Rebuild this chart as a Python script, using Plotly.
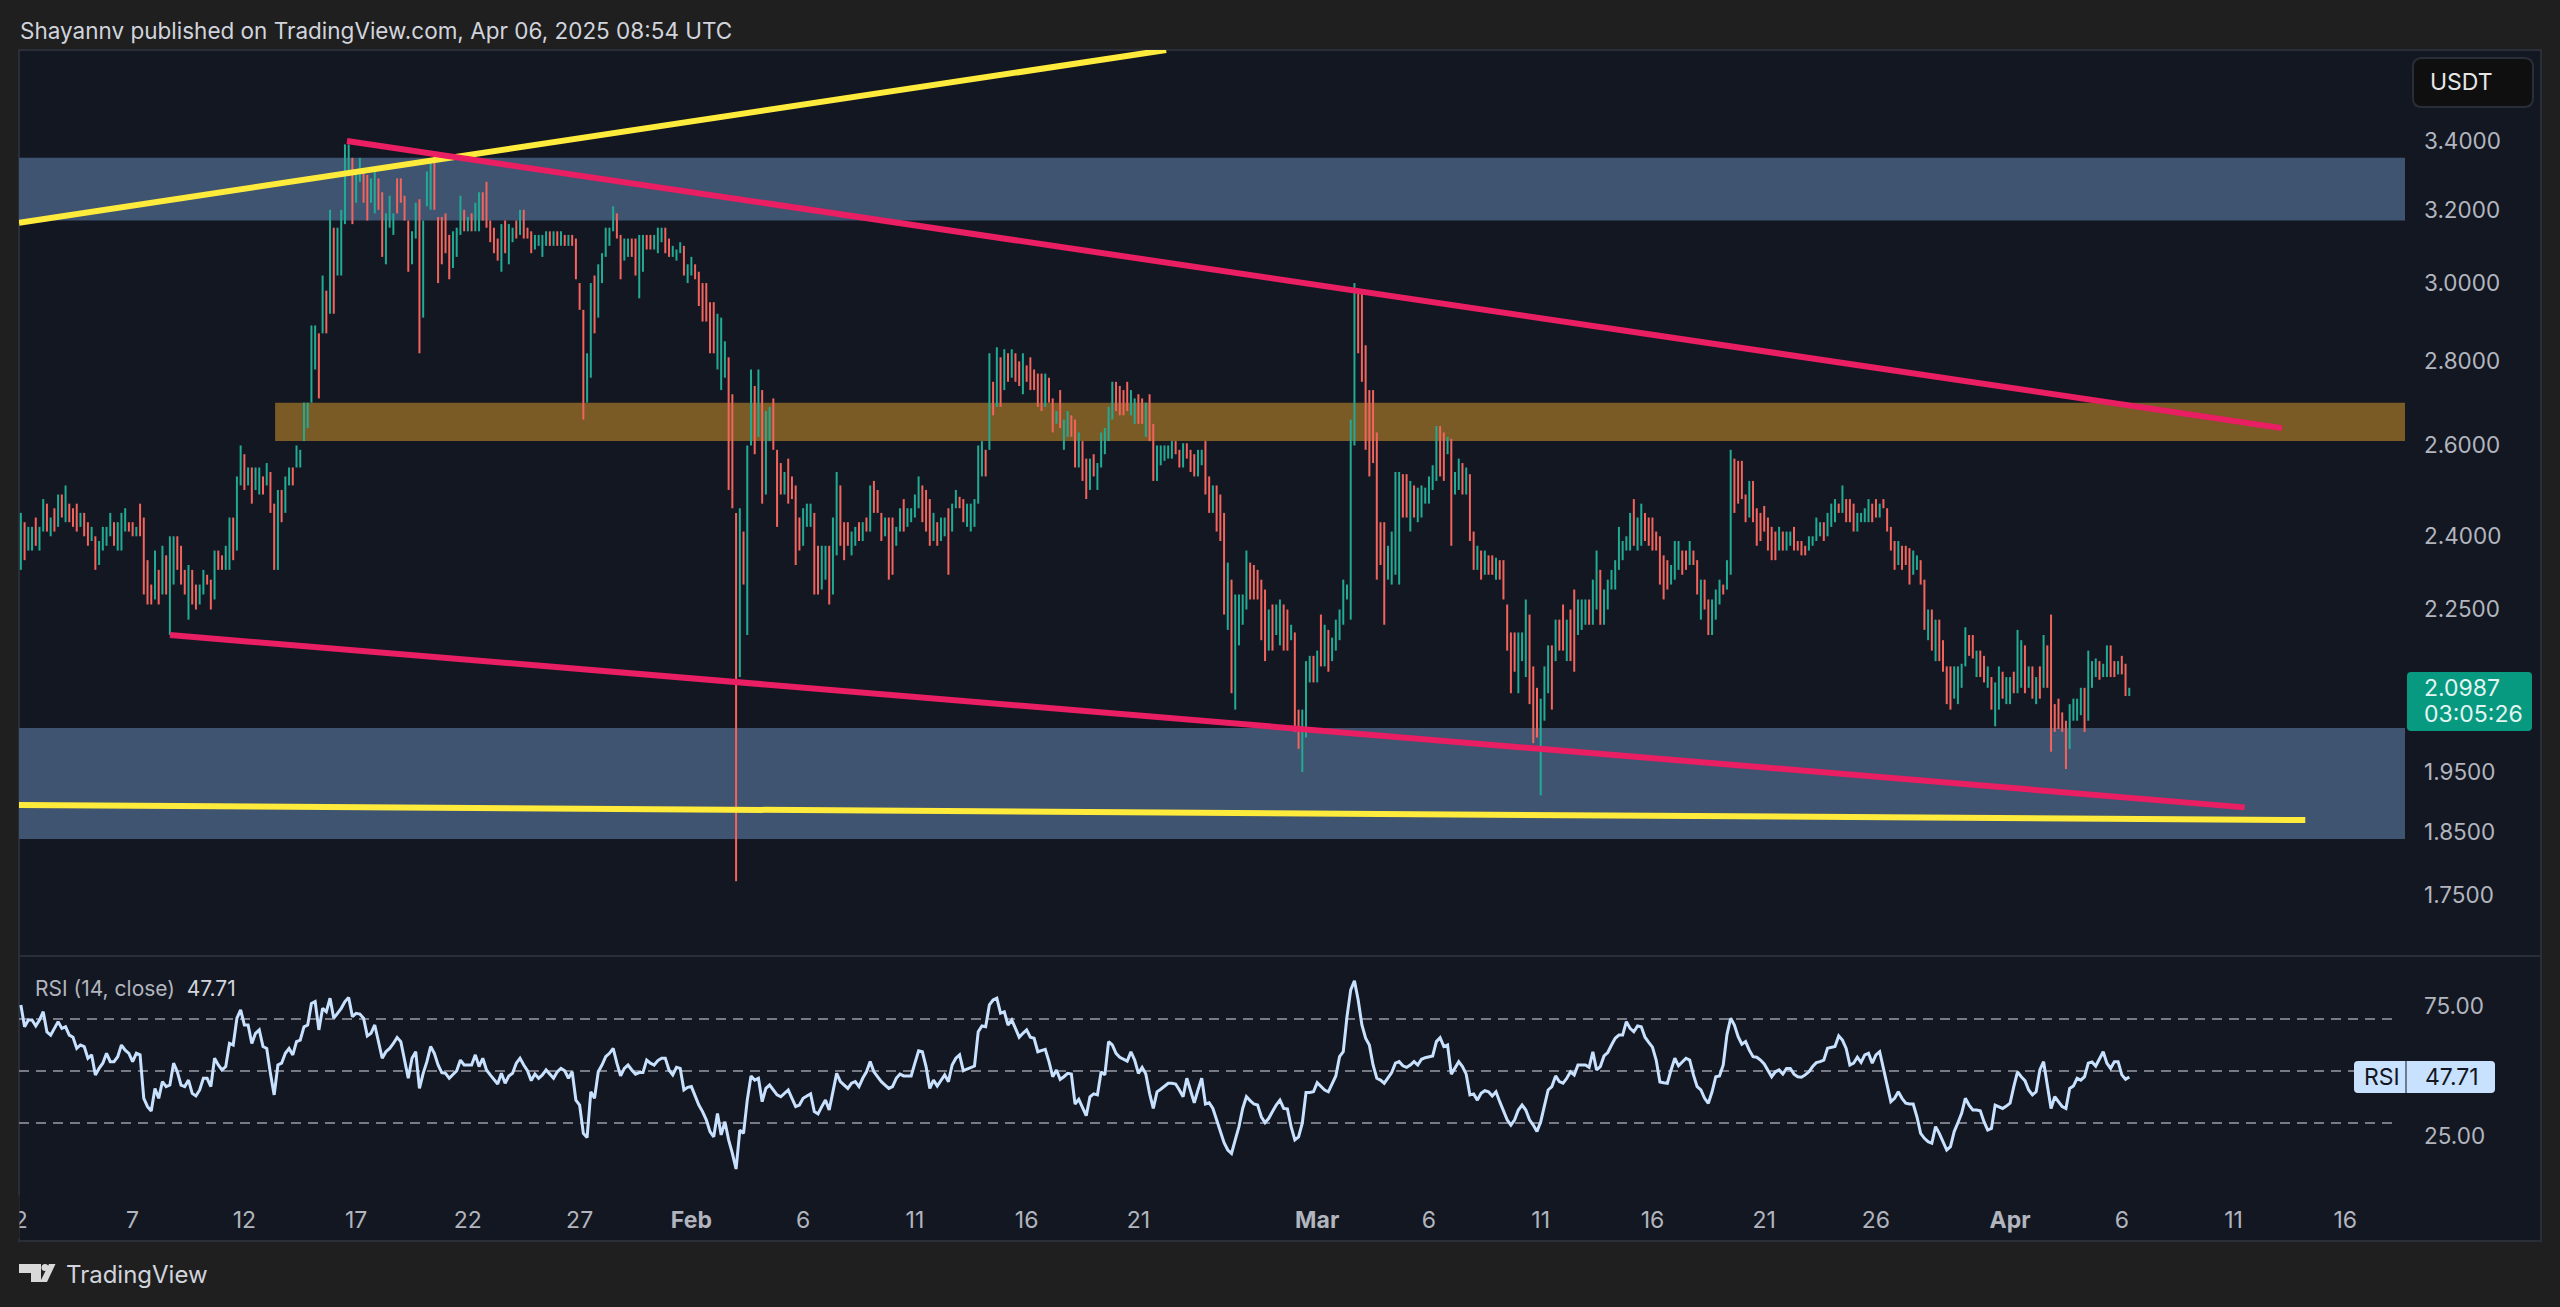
import pandas as pd
import plotly.graph_objects as go

W, H = 2560, 1307

# ---------- DATA (4-hour bars starting 2 Jan 2025, one row per day) ----------
bar_start = "2025-01-02 00:00"
first_open = 2.36
highs = [
2.45,2.43,2.42,2.42,2.44,2.42, 2.48,2.47,2.44,2.46,2.49,2.49, 2.51,2.47,2.46,2.47,2.45,2.45,
2.43,2.42,2.40,2.39,2.42,2.42, 2.45,2.43,2.43,2.45,2.46,2.43, 2.43,2.42,2.47,2.44,2.35,2.30,
2.37,2.33,2.38,2.36,2.40,2.40, 2.40,2.38,2.33,2.34,2.33,2.30, 2.30,2.33,2.32,2.31,2.37,2.37,
2.36,2.38,2.44,2.44,2.53,2.60, 2.58,2.55,2.55,2.55,2.55,2.53, 2.56,2.54,2.47,2.50,2.50,2.53,
2.55,2.55,2.60,2.59,2.70,2.70, 2.89,2.89,2.87,3.02,2.98,3.20, 3.15,3.15,3.20,3.39,3.39,3.35,
3.31,3.35,3.31,3.30,3.29,3.31, 3.29,3.25,3.19,3.24,3.19,3.29, 3.29,3.24,3.17,3.14,3.22,3.23,
3.17,3.31,3.34,3.36,3.18,3.18, 3.19,3.13,3.14,3.15,3.24,3.20, 3.18,3.19,3.22,3.25,3.25,3.28,
3.17,3.15,3.12,3.16,3.17,3.16, 3.15,3.17,3.20,3.20,3.15,3.14, 3.13,3.13,3.13,3.14,3.14,3.14,
3.14,3.14,3.13,3.13,3.13,3.12, 3.00,2.93,2.82,3.00,3.02,3.05, 3.08,3.15,3.15,3.21,3.19,3.13,
3.12,3.12,3.12,3.12,3.13,3.13, 3.13,3.13,3.13,3.15,3.15,3.15, 3.12,3.10,3.09,3.11,3.10,3.05,
3.07,3.05,3.03,3.00,3.00,2.95, 2.95,2.92,2.91,2.85,2.81,2.72, 2.45,2.46,2.41,2.60,2.78,2.74,
2.78,2.73,2.68,2.69,2.71,2.59, 2.56,2.54,2.57,2.53,2.51,2.44, 2.46,2.47,2.47,2.45,2.38,2.38,
2.38,2.38,2.44,2.54,2.51,2.43, 2.43,2.41,2.42,2.43,2.43,2.44, 2.51,2.52,2.50,2.45,2.44,2.44,
2.44,2.42,2.46,2.48,2.46,2.46, 2.49,2.53,2.51,2.50,2.48,2.45, 2.43,2.44,2.44,2.46,2.47,2.50,
2.485,2.48,2.47,2.47,2.48,2.60, 2.61,2.59,2.82,2.75,2.835,2.81, 2.83,2.82,2.83,2.82,2.80,2.82,
2.79,2.81,2.78,2.77,2.77,2.77, 2.76,2.71,2.68,2.73,2.66,2.68, 2.67,2.66,2.63,2.61,2.57,2.57,
2.58,2.56,2.63,2.64,2.69,2.75, 2.75,2.74,2.73,2.75,2.73,2.71, 2.72,2.71,2.70,2.72,2.65,2.60,
2.60,2.60,2.60,2.61,2.61,2.59, 2.605,2.605,2.59,2.58,2.59,2.59, 2.61,2.53,2.51,2.51,2.49,2.45,
2.345,2.31,2.28,2.28,2.28,2.37, 2.345,2.34,2.33,2.31,2.29,2.25, 2.26,2.26,2.27,2.26,2.25,2.22,
2.205,2.06,2.06,2.15,2.16,2.16, 2.17,2.24,2.22,2.21,2.195,2.23, 2.25,2.31,2.30,2.66,3.00,2.98,
2.98,2.84,2.73,2.73,2.63,2.43, 2.43,2.38,2.41,2.54,2.54,2.535, 2.535,2.52,2.51,2.505,2.51,2.505,
2.53,2.555,2.645,2.645,2.63,2.62, 2.615,2.54,2.57,2.56,2.55,2.535, 2.41,2.38,2.37,2.37,2.36,2.36,
2.355,2.35,2.35,2.26,2.205,2.205, 2.205,2.205,2.27,2.24,2.14,2.10, 2.08,2.14,2.18,2.18,2.23,2.23,
2.26,2.23,2.25,2.29,2.27,2.27, 2.27,2.27,2.31,2.37,2.33,2.29, 2.31,2.33,2.35,2.42,2.39,2.40,
2.45,2.48,2.44,2.47,2.45,2.44, 2.44,2.41,2.40,2.36,2.35,2.34, 2.39,2.39,2.37,2.37,2.39,2.37,
2.35,2.31,2.31,2.27,2.27,2.29, 2.31,2.30,2.35,2.59,2.57,2.565, 2.565,2.49,2.52,2.52,2.46,2.45,
2.465,2.44,2.42,2.41,2.42,2.41, 2.41,2.41,2.42,2.39,2.39,2.38, 2.40,2.40,2.44,2.43,2.43,2.45,
2.47,2.48,2.47,2.51,2.48,2.48, 2.47,2.45,2.45,2.46,2.48,2.47, 2.48,2.47,2.48,2.46,2.42,2.39,
2.39,2.38,2.38,2.375,2.37,2.36, 2.35,2.31,2.25,2.25,2.23,2.23, 2.19,2.14,2.14,2.14,2.14,2.145,
2.215,2.20,2.20,2.17,2.17,2.16, 2.14,2.12,2.11,2.14,2.13,2.12, 2.12,2.13,2.21,2.19,2.18,2.14,
2.14,2.12,2.14,2.20,2.18,2.24, 2.07,2.08,2.055,2.04,2.07,2.08, 2.08,2.10,2.10,2.17,2.15,2.155,
2.15,2.145,2.18,2.18,2.15,2.15, 2.16,2.145,2.10,
]
lows = [
2.33,2.35,2.37,2.37,2.38,2.37, 2.41,2.41,2.40,2.41,2.42,2.44, 2.43,2.43,2.42,2.41,2.42,2.40,
2.38,2.39,2.33,2.34,2.37,2.38, 2.40,2.38,2.37,2.37,2.41,2.41, 2.40,2.40,2.40,2.28,2.26,2.26,
2.27,2.26,2.28,2.28,2.20,2.30, 2.33,2.30,2.28,2.23,2.26,2.25, 2.26,2.28,2.30,2.25,2.27,2.33,
2.33,2.33,2.33,2.35,2.37,2.51, 2.50,2.51,2.47,2.50,2.49,2.49, 2.51,2.45,2.33,2.33,2.43,2.45,
2.51,2.51,2.55,2.55,2.61,2.64, 2.70,2.78,2.71,2.87,2.87,2.92, 2.92,3.02,3.02,3.16,3.30,3.16,
3.22,3.28,3.22,3.17,3.22,3.19, 3.20,3.07,3.05,3.15,3.13,3.19, 3.22,3.17,3.03,3.05,3.12,2.82,
2.91,3.21,3.20,3.20,3.00,3.05, 3.08,3.01,3.04,3.07,3.13,3.14, 3.14,3.14,3.14,3.14,3.17,3.15,
3.11,3.08,3.06,3.03,3.08,3.05, 3.11,3.12,3.13,3.12,3.12,3.08, 3.09,3.10,3.07,3.10,3.10,3.10,
3.10,3.10,3.10,3.10,3.10,3.01, 2.93,2.66,2.70,2.76,2.87,2.91, 3.00,3.07,3.10,3.14,3.12,3.01,
3.06,3.07,3.07,3.02,2.96,3.03, 3.09,3.09,3.09,3.08,3.11,3.08, 3.07,3.07,3.06,3.08,3.02,3.00,
3.02,3.01,2.94,2.90,2.90,2.82, 2.82,2.78,2.73,2.76,2.50,2.46, 1.771,2.12,2.30,2.20,2.60,2.58,
2.62,2.47,2.49,2.61,2.59,2.42, 2.49,2.49,2.47,2.48,2.34,2.37, 2.38,2.42,2.42,2.28,2.28,2.29,
2.31,2.26,2.28,2.36,2.38,2.35, 2.38,2.36,2.38,2.39,2.39,2.41, 2.41,2.45,2.45,2.39,2.40,2.31,
2.32,2.38,2.41,2.41,2.42,2.43, 2.44,2.46,2.43,2.41,2.38,2.39, 2.38,2.39,2.40,2.32,2.41,2.46,
2.46,2.43,2.42,2.41,2.42,2.47, 2.53,2.53,2.59,2.67,2.69,2.69, 2.73,2.75,2.76,2.75,2.74,2.72,
2.75,2.73,2.73,2.69,2.68,2.69, 2.70,2.63,2.65,2.64,2.59,2.62, 2.62,2.55,2.55,2.52,2.48,2.50,
2.53,2.50,2.55,2.58,2.61,2.66, 2.68,2.67,2.67,2.68,2.67,2.65, 2.65,2.65,2.62,2.61,2.52,2.52,
2.555,2.565,2.57,2.57,2.58,2.55, 2.55,2.57,2.54,2.53,2.53,2.555, 2.49,2.45,2.45,2.41,2.39,2.24,
2.21,2.09,2.06,2.18,2.22,2.25, 2.27,2.27,2.27,2.19,2.15,2.17, 2.17,2.20,2.18,2.17,2.17,2.19,
2.02,1.99,1.95,2.01,2.11,2.11, 2.11,2.14,2.14,2.13,2.15,2.17, 2.19,2.22,2.27,2.23,2.60,2.82,
2.75,2.59,2.53,2.56,2.31,2.34, 2.22,2.31,2.30,2.32,2.30,2.44, 2.44,2.41,2.44,2.43,2.44,2.47,
2.47,2.50,2.52,2.53,2.52,2.58, 2.38,2.49,2.50,2.49,2.49,2.39, 2.33,2.33,2.31,2.32,2.32,2.32,
2.31,2.31,2.27,2.17,2.09,2.13, 2.09,2.15,2.12,2.07,2.00,2.01, 1.91,2.04,2.09,2.06,2.15,2.17,
2.17,2.15,2.15,2.13,2.20,2.21, 2.22,2.22,2.22,2.25,2.22,2.22, 2.25,2.29,2.29,2.33,2.35,2.37,
2.37,2.38,2.37,2.38,2.39,2.38, 2.37,2.37,2.30,2.27,2.29,2.30, 2.31,2.33,2.32,2.33,2.34,2.34,
2.28,2.23,2.25,2.20,2.20,2.23, 2.26,2.28,2.29,2.32,2.45,2.47, 2.48,2.43,2.44,2.43,2.38,2.39,
2.41,2.37,2.35,2.35,2.37,2.37, 2.37,2.38,2.37,2.37,2.36,2.36, 2.37,2.38,2.39,2.40,2.39,2.40,
2.42,2.43,2.45,2.45,2.43,2.43, 2.41,2.41,2.43,2.43,2.43,2.43, 2.44,2.44,2.46,2.41,2.37,2.33,
2.34,2.33,2.34,2.30,2.32,2.33, 2.30,2.21,2.19,2.17,2.15,2.15, 2.13,2.07,2.06,2.08,2.07,2.10,
2.14,2.16,2.155,2.12,2.12,2.11, 2.10,2.06,2.03,2.06,2.08,2.07, 2.07,2.09,2.09,2.10,2.09,2.10,
2.08,2.07,2.08,2.10,2.10,1.985, 2.02,2.025,2.02,1.955,1.99,2.04, 2.04,2.05,2.02,2.04,2.10,2.12,
2.115,2.12,2.12,2.12,2.12,2.125, 2.125,2.085,2.085,
]
closes = [
2.42,2.37,2.40,2.41,2.39,2.41, 2.46,2.43,2.44,2.42,2.47,2.45, 2.48,2.44,2.43,2.42,2.44,2.41,
2.39,2.41,2.34,2.37,2.40,2.41, 2.44,2.40,2.42,2.44,2.45,2.42, 2.41,2.415,2.40,2.29,2.27,2.26,
2.35,2.28,2.36,2.30,2.38,2.39, 2.36,2.31,2.29,2.33,2.27,2.26, 2.29,2.32,2.30,2.27,2.36,2.34,
2.335,2.37,2.43,2.38,2.52,2.59, 2.52,2.54,2.48,2.53,2.54,2.50, 2.55,2.46,2.35,2.49,2.44,2.52,
2.54,2.52,2.59,2.595,2.69,2.695, 2.88,2.89,2.72,3.00,2.90,3.18, 2.95,3.14,3.19,3.30,3.33,3.17,
3.28,3.30,3.23,3.18,3.27,3.30, 3.21,3.09,3.17,3.23,3.235,3.20, 3.19,3.18,3.05,3.13,3.20,3.02,
3.15,3.28,3.32,3.21,3.02,3.01, 3.00,2.99,3.12,3.14,3.22,3.15, 3.17,3.15,3.20,3.24,3.19,3.16,
3.12,3.09,3.07,3.15,3.10,3.14, 3.145,3.13,3.18,3.13,3.125,3.09, 3.12,3.125,3.13,3.135,3.11,3.13,
3.11,3.13,3.11,3.12,3.105,3.02, 2.94,2.72,2.81,2.98,2.89,3.03, 3.07,3.14,3.145,3.20,3.13,3.03,
3.10,3.11,3.08,3.03,3.11,3.12, 3.10,3.095,3.125,3.14,3.145,3.10, 3.08,3.09,3.095,3.10,3.03,3.04,
3.06,3.02,2.95,2.92,2.91,2.84, 2.83,2.90,2.905,2.91,2.52,2.48, 2.15,2.42,2.32,2.59,2.76,2.62,
2.76,2.50,2.65,2.67,2.60,2.44, 2.43,2.53,2.48,2.47,2.36,2.35, 2.45,2.46,2.465,2.30,2.29,2.36,
2.37,2.28,2.42,2.52,2.40,2.37, 2.36,2.40,2.41,2.40,2.42,2.415, 2.49,2.46,2.455,2.40,2.43,2.33,
2.32,2.41,2.45,2.42,2.45,2.455, 2.48,2.52,2.45,2.43,2.40,2.44, 2.39,2.43,2.435,2.35,2.46,2.49,
2.47,2.44,2.46,2.465,2.47,2.58, 2.60,2.54,2.78,2.69,2.80,2.72, 2.80,2.76,2.82,2.76,2.75,2.80,
2.76,2.74,2.735,2.70,2.69,2.76, 2.71,2.64,2.67,2.65,2.655,2.67, 2.63,2.57,2.62,2.54,2.49,2.55,
2.54,2.555,2.62,2.63,2.68,2.74, 2.70,2.68,2.675,2.67,2.72,2.725, 2.66,2.655,2.69,2.63,2.54,2.59,
2.595,2.60,2.601,2.605,2.59,2.56, 2.60,2.58,2.55,2.54,2.58,2.585, 2.52,2.47,2.50,2.43,2.41,2.26,
2.33,2.14,2.26,2.27,2.275,2.36, 2.28,2.275,2.27,2.21,2.17,2.24, 2.18,2.25,2.26,2.18,2.17,2.21,
2.05,2.01,2.05,2.14,2.15,2.12, 2.16,2.15,2.20,2.14,2.19,2.22, 2.24,2.30,2.305,2.62,2.92,2.85,
2.78,2.62,2.55,2.54,2.35,2.34, 2.31,2.37,2.40,2.52,2.53,2.46, 2.45,2.50,2.46,2.49,2.50,2.505,
2.52,2.55,2.63,2.56,2.55,2.60, 2.46,2.53,2.56,2.51,2.53,2.41, 2.35,2.37,2.32,2.36,2.355,2.33,
2.34,2.32,2.28,2.19,2.11,2.105, 2.195,2.20,2.25,2.14,2.05,2.03, 2.07,2.13,2.17,2.16,2.22,2.19,
2.18,2.22,2.20,2.16,2.26,2.265, 2.27,2.23,2.30,2.35,2.24,2.28, 2.30,2.32,2.34,2.41,2.415,2.42,
2.44,2.41,2.43,2.46,2.40,2.39, 2.38,2.375,2.32,2.29,2.28,2.33, 2.38,2.385,2.33,2.325,2.38,2.35,
2.29,2.30,2.26,2.21,2.26,2.28, 2.30,2.285,2.34,2.56,2.47,2.46, 2.45,2.44,2.51,2.44,2.39,2.385,
2.38,2.37,2.36,2.355,2.41,2.38, 2.40,2.405,2.38,2.375,2.37,2.365, 2.39,2.395,2.43,2.435,2.40,2.44,
2.46,2.47,2.455,2.50,2.44,2.435, 2.42,2.44,2.445,2.455,2.47,2.44, 2.43,2.46,2.45,2.42,2.38,2.34,
2.38,2.34,2.33,2.32,2.36,2.365, 2.31,2.23,2.24,2.19,2.22,2.17, 2.14,2.09,2.08,2.13,2.135,2.14,
2.20,2.17,2.16,2.165,2.13,2.12, 2.13,2.07,2.10,2.13,2.09,2.11, 2.115,2.10,2.20,2.205,2.10,2.13,
2.09,2.11,2.09,2.19,2.11,2.06, 2.03,2.02,2.01,2.00,2.06,2.07, 2.075,2.09,2.06,2.16,2.165,2.17,
2.12,2.14,2.17,2.13,2.125,2.145, 2.13,2.095,2.0987,
]
rsi = [
75.4,67,69.6,69.6,67.3,69.6, 72.8,65,63.8,66.4,69,66.4, 67,63.8,63,58.7,60,59.4,
54.9,56.2,48.5,51,53,56.8, 53.6,53.6,55.5,60,58,56.8, 53.6,56.8,56.2,39.5,36.3,34.6,
43.3,39.5,45.9,44,44.6,53, 49.7,44.6,44,46.5,41.4,40.4, 42.7,47.2,47.2,44,54.9,52.3,
50.4,51.7,60.6,60,70.3,73.5, 67.7,67.7,60.6,64.5,65.8,59.4, 58.7,49,40.8,52.3,53,56.8,
58.7,56.2,61.3,61.9,67,67.7, 76,76.7,65.8,74.1,72.8,78, 70.3,72.2,74.1,76.7,78.3,70.9,
72.2,71.9,70.3,63.5,64.5,67.7, 61.9,54.9,57.4,58.7,60.6,62.9, 61.3,54.2,47.2,54.9,57.4,43.3,
49.1,53.6,59.4,56.8,52.3,49.4, 49.1,47.2,48.8,50.1,54.2,52.3, 52.3,52.3,56.2,51.7,54.9,50.4,
48.5,46.5,45,49.1,45.3,48.1, 49.1,53,54.9,52.3,50.1,46.3, 48.8,47.2,48.5,50.4,48.8,47.2,
49.7,51,50.1,47.2,49.7,38.8, 36.9,26,24.4,42,39.5,49.7, 52.3,55.5,56.8,58.7,53,48.1,
51,52.3,50.4,48.8,49.4,49.4, 54.2,53,52.3,54,54.9,54.9, 50.4,48.5,51.4,51,42.7,43.7,
44,40.1,36.9,34.4,31.2,26.7, 24.7,33.7,25.4,30.5,23.5,18.3, 12.3,27.3,26,38.8,48.1,46.5,
47.2,38.2,43.3,44.6,42.7,40.8, 40.1,41.4,42.7,39.5,36.3,36.9, 39.5,40.4,41.2,34.4,33.5,36.3,
38.8,35,42.7,49.1,45.9,44.6, 43.3,45.3,45.9,44,47.2,49.7, 53.6,49.7,47.8,45.9,44.6,43.3,
44,47.2,48.8,48.1,48.1,48.1, 53,57.8,57.4,51.7,43.3,46.5, 44.2,46.5,48.5,45.9,52.3,54.9,
56.2,50.1,50.6,51.3,51.9,65.1, 67.3,67,75.4,77.3,78,72.2, 72.8,67.7,69.6,66.4,63,64.5,
65.8,63,62.6,57.4,58,58.3, 53.6,47.8,50.4,46.8,47.8,49.1, 48.8,37.3,39.1,35.6,32.8,40.1,
41.2,40.8,49.7,48.5,61.3,60, 56.8,55.3,54.5,53.8,57.4,54.2, 49.1,51.4,48.8,41.4,35.6,42,
43,44,45.3,45.3,45,42.7, 40.1,47.2,42,37.8,42.7,47.2, 37.3,37.8,35.6,31.2,26.7,22.4,
19.6,18.3,23.5,28.6,35.6,40.1, 38.6,37.3,36.9,32.4,30.1,31.8, 34.4,36.9,38.8,35.6,35.4,28.6,
23.5,24.7,29.9,41.7,41.7,42, 45.5,44,42.7,42,45.3,48.1, 55.5,57.4,70.9,81.2,84.7,77.3,
67.7,62.6,60,52.3,47.2,46.5, 45.3,47.2,49.4,53,53.6,52, 51.4,52.3,53.6,52.3,54.5,55.1,
55.5,55.8,61.3,62.8,59.4,60, 48.8,51,53.6,51.7,48.8,40.8, 41.2,38.8,41.4,42.4,42,40.4,
42,38.2,34.4,31.2,29.2,31.2, 35,36.9,35,31.2,29.2,26.7, 30.5,36.3,42.7,44,48.1,45.9,
45.3,47.2,49.7,48.5,52.3,52.3, 52.3,51.4,57.4,50.4,51.7,55.8, 57.1,60,62.6,63.8,63.8,69,
66.4,65.1,67.3,67,63,61, 59.2,54.2,45.8,45.5,45.3,50.4, 54.9,52,53.6,54.9,54.2,48.5,
44,42.7,39.5,37.6,42,47.8, 48.1,52.3,64,70.3,67.7,63.2, 60.3,61.3,58,55.5,55.3,54.2,
52.7,50.4,47.8,49.7,50.4,48.8, 51,51,48.8,47.8,47.6,48.5, 49.7,51.7,53.2,53.6,54.2,58.7,
59.1,59.4,63.5,61.9,58.7,52.3, 53,55.3,53.3,56.2,56.8,53, 56.2,57.4,51,44,38.2,39.5,
42,39.5,37.6,37.3,37.3,32.4, 26,24.1,22.8,22.2,28.6,26, 22.8,19.6,20.9,26.7,30.1,33.7,
39.5,36.9,35,35,34.7,30.5, 27.3,27.9,36.9,36.3,35.6,36.5, 37.6,44,49.7,47.8,46.3,42.7,
40.8,42,50.4,53.6,44,35.6, 40.1,38.2,36.3,35.6,43.3,44.2, 47.2,46.5,47.8,53,53.5,51.9,
54.9,57.4,53,51,53.6,53.6, 48.5,46.8,47.71,
]
price_ticks = [3.4, 3.2, 3.0, 2.8, 2.6, 2.4, 2.25, 1.95, 1.85, 1.75]
price_tick_text = ["3.4000","3.2000","3.0000","2.8000","2.6000","2.4000","2.2500","1.9500","1.8500","1.7500"]
rsi_ticks = [75, 25]
rsi_tick_text = ["75.00", "25.00"]
rsi_levels = [70, 50, 30]
date_ticks = ["2025-01-02","2025-01-07","2025-01-12","2025-01-17","2025-01-22","2025-01-27","2025-02-01",
              "2025-02-06","2025-02-11","2025-02-16","2025-02-21","2025-03-01","2025-03-06","2025-03-11",
              "2025-03-16","2025-03-21","2025-03-26","2025-04-01","2025-04-06","2025-04-11","2025-04-16"]
date_tick_text = ["2","7","12","17","22","27","<b>Feb</b>","6","11","16","21","<b>Mar</b>","6","11","16","21","26",
                  "<b>Apr</b>","6","11","16"]
upper_yellow_x, upper_yellow_y = ["2025-01-01 22:00", "2025-02-22 05:45"], [3.164, 3.684]
lower_yellow_x, lower_yellow_y = ["2025-01-01 22:00", "2025-04-14 05:00"], [1.894, 1.869]
upper_pink_x, upper_pink_y = ["2025-01-16 14:10", "2025-04-13 04:05"], [3.40, 2.64]
lower_pink_x, lower_pink_y = ["2025-01-08 16:05", "2025-04-11 12:00"], [2.20, 1.89]
blue_zones = [(3.17, 3.35), (1.838, 2.027)]
brown_zone = (2.61, 2.70)
brown_start = "2025-01-13 09:00"
x_range = ["2025-01-01 22:00", "2025-04-18 16:05"]
rsi_range = (4.23, 94.23)

n = len(closes)
dates = pd.date_range(bar_start, periods=n, freq="4h")
opens = [first_open] + closes[:-1]   # each 4-hour bar opens at the previous close

# ---------- STYLE ----------
OUTER = "#1f1f1f"; PANEL = "#131722"; BORDER = "#2a2e39"
TXT = "#b2b5be"; FONT = "Inter"
TEAL = "#22ab94"; RED = "#f2645c"; PINK = "#e91e63"; YELLOW = "#ffeb3b"
BLUE = "#3f5470"; BROWN = "#7a5a25"; RSI_C = "#c8e1ff"

def X(p): return p / W
def Y(p): return 1 - p / H

def rrect(x0, y0, x1, y1, r):
    a, b, c, d = X(x0), X(x1), Y(y0), Y(y1)
    rx, ry = r / W, r / H
    return (f"M {a+rx} {c} L {b-rx} {c} Q {b} {c} {b} {c-ry} L {b} {d+ry} Q {b} {d} {b-rx} {d} "
            f"L {a+rx} {d} Q {a} {d} {a} {d+ry} L {a} {c-ry} Q {a} {c} {a+rx} {c} Z")

fig = go.Figure()
fig.add_trace(go.Ohlc(x=dates, open=opens, high=highs, low=lows, close=closes, tickwidth=0,
                      increasing=dict(line=dict(color=TEAL, width=2)),
                      decreasing=dict(line=dict(color=RED, width=2)),
                      xaxis="x", yaxis="y", showlegend=False))
for xs, ys, col in [(upper_yellow_x, upper_yellow_y, YELLOW), (lower_yellow_x, lower_yellow_y, YELLOW),
                    (upper_pink_x, upper_pink_y, PINK), (lower_pink_x, lower_pink_y, PINK)]:
    fig.add_trace(go.Scatter(x=xs, y=ys, mode="lines", line=dict(color=col, width=6),
                             xaxis="x", yaxis="y", showlegend=False))
for lv in rsi_levels:
    fig.add_trace(go.Scatter(x=[x_range[0], "2025-04-18 08:00"], y=[lv, lv], mode="lines",
                             line=dict(color="#787b86", width=2, dash="10px,7px"),
                             xaxis="x2", yaxis="y2", showlegend=False))
fig.add_trace(go.Scatter(x=dates, y=rsi, mode="lines", line=dict(color=RSI_C, width=3),
                         xaxis="x2", yaxis="y2", showlegend=False))

shapes = [
    dict(type="rect", xref="paper", yref="paper", x0=X(19), x1=X(2541), y0=Y(1241), y1=Y(50),
         fillcolor=PANEL, line=dict(color=BORDER, width=2), layer="below"),
    dict(type="line", xref="paper", yref="paper", x0=X(19), x1=X(2541), y0=Y(956), y1=Y(956),
         line=dict(color=BORDER, width=2), layer="below"),
]
for lo, hi in blue_zones:
    shapes.append(dict(type="rect", xref="x", yref="y", x0=x_range[0], x1=x_range[1], y0=lo, y1=hi,
                       fillcolor=BLUE, line=dict(width=0), layer="below"))
shapes.append(dict(type="rect", xref="x", yref="y", x0=brown_start, x1=x_range[1],
                   y0=brown_zone[0], y1=brown_zone[1], fillcolor=BROWN, line=dict(width=0), layer="below"))
# USDT box, last-price box, RSI badges
shapes += [
    dict(type="path", xref="paper", yref="paper", path=rrect(2413, 58, 2533, 107, 9),
         fillcolor="#0f0f0f", line=dict(color=BORDER, width=2)),
    dict(type="path", xref="paper", yref="paper", path=rrect(2407, 672, 2532, 731, 4),
         fillcolor="#089981", line=dict(width=0)),
    dict(type="path", xref="paper", yref="paper", path=rrect(2354, 1061, 2495, 1093, 4),
         fillcolor=RSI_C, line=dict(width=0)),
    dict(type="line", xref="paper", yref="paper", x0=X(2406), x1=X(2406), y0=Y(1061), y1=Y(1093),
         line=dict(color=PANEL, width=1)),
]
# TradingView logo
LOGO = "#d9d9d9"
shapes += [
    dict(type="path", xref="paper", yref="paper", fillcolor=LOGO, line=dict(width=0),
         path=f"M {X(19)} {Y(1264)} L {X(41)} {Y(1264)} L {X(41)} {Y(1282)} L {X(31)} {Y(1282)} "
              f"L {X(31)} {Y(1273)} L {X(19)} {Y(1273)} Z"),
    dict(type="circle", xref="paper", yref="paper", x0=X(41.5), x1=X(48.5), y0=Y(1271), y1=Y(1264),
         fillcolor=LOGO, line=dict(width=0)),
    dict(type="path", xref="paper", yref="paper", fillcolor=LOGO, line=dict(width=0),
         path=f"M {X(49)} {Y(1264)} L {X(55.5)} {Y(1264)} L {X(47)} {Y(1282)} L {X(40)} {Y(1282)} Z"),
]

def note(text, x, y, size=23, color=TXT, anchor="left", **kw):
    return dict(text=text, x=X(x), y=Y(y), xref="paper", yref="paper", xanchor=anchor, yanchor="middle",
                showarrow=False, font=dict(family=FONT, size=size, color=color), **kw)

annotations = [
    note("Shayannv published on TradingView.com, Apr 06, 2025 08:54 UTC", 18, 30, 22.5, "#d1d4dc"),
    note("TradingView", 64, 1274, 24, "#d1d4dc"),
    note("USDT", 2428, 82, 23, "#e6e6e6"),
    note("2.0987", 2422, 688, 23, "#e3f5f1"),
    note("03:05:26", 2422, 714, 23, "#e3f5f1"),
    note('RSI (14, close)&nbsp;&nbsp;<span style="color:#d1d4dc">47.71</span>', 33, 988, 21),
    note("RSI", 2362, 1077, 23, PANEL),
    note("47.71", 2423, 1077, 23, PANEL),
    note(" ", 0, 1217, 20, OUTER, width=16, height=40, bgcolor=OUTER, align="left"),
]

fig.update_layout(
    width=W, height=H, autosize=False, margin=dict(l=0, r=0, t=0, b=0, pad=0, autoexpand=False),
    paper_bgcolor=OUTER, plot_bgcolor="rgba(0,0,0,0)", hovermode=False, showlegend=False,
    font=dict(family=FONT, color=TXT, size=23), shapes=shapes, annotations=annotations,
    xaxis=dict(domain=[X(19), X(2405)], range=x_range, type="date", anchor="y", showgrid=False, zeroline=False,
               showticklabels=False, ticks="", rangeslider=dict(visible=False), showline=False),
    yaxis=dict(domain=[Y(956), Y(50)], type="log", anchor="x", side="right",
               range=[0.21958, 0.56632], tickmode="array", tickvals=price_ticks, ticktext=price_tick_text,
               showgrid=False, zeroline=False, ticks="", ticklabelstandoff=18, showline=False,
               tickfont=dict(family=FONT, size=22.5, color=TXT)),
    xaxis2=dict(domain=[X(19), X(2405)], range=x_range, type="date", anchor="y2", matches="x", showgrid=False,
                zeroline=False, tickmode="array", tickvals=date_ticks, ticktext=date_tick_text, ticks="",
                ticklabelstandoff=14, showline=False, tickangle=0, tickfont=dict(family=FONT, size=23, color=TXT)),
    yaxis2=dict(domain=[Y(1190), Y(956)], range=list(rsi_range), anchor="x2", side="right", tickmode="array",
                tickvals=rsi_ticks, ticktext=rsi_tick_text, showgrid=False, zeroline=False, ticks="",
                ticklabelstandoff=18, showline=False, tickfont=dict(family=FONT, size=22.5, color=TXT)),
)

fig.write_html("out.html", config={"displayModeBar": False},
               post_script="document.body.style.margin='0';document.body.style.background='#1f1f1f';"
                           "document.documentElement.style.overflow='hidden';")
